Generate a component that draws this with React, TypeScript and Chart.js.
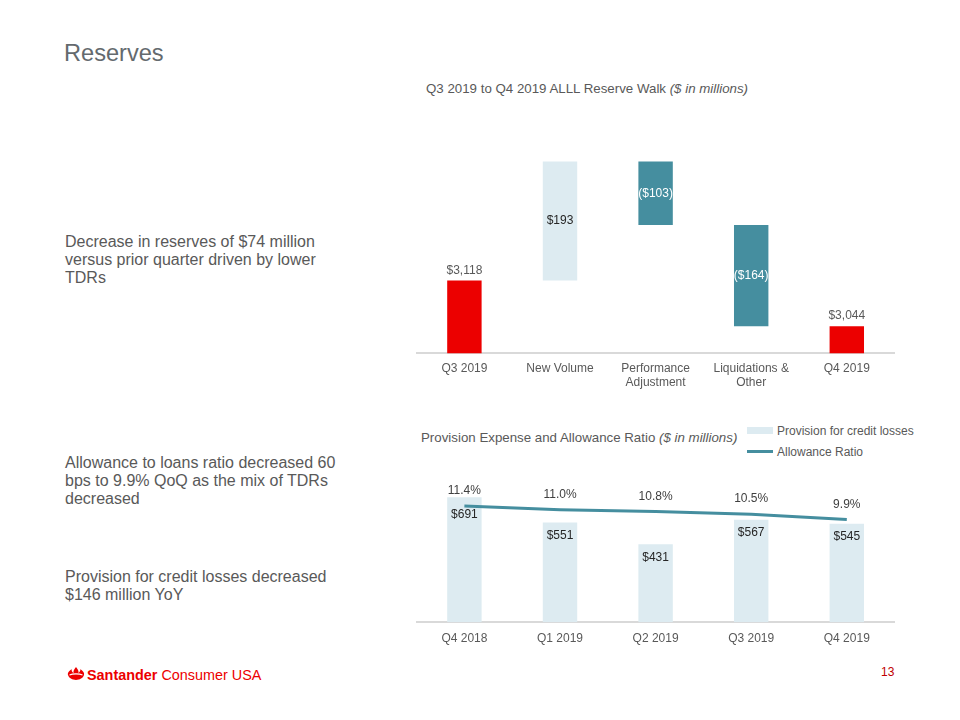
import React, { useEffect, useRef } from "react";
import Chart from "chart.js/auto";

// ---------- Data ----------
const walkCategories: string[][] = [["Q3 2019"], ["New Volume"], ["Performance", "Adjustment"], ["Liquidations &", "Other"], ["Q4 2019"]];
const walkValues: number[] = [3118, 193, -103, -164, 3044];
const walkIsTotal: boolean[] = [true, false, false, false, true];
const walkLabels: string[] = ["$3,118", "$193", "($103)", "($164)", "$3,044"];

const provCategories: string[] = ["Q4 2018", "Q1 2019", "Q2 2019", "Q3 2019", "Q4 2019"];
const provisionValues: number[] = [691, 551, 431, 567, 545];
const provisionLabels: string[] = ["$691", "$551", "$431", "$567", "$545"];
const allowanceRatio: number[] = [11.4, 11.0, 10.8, 10.5, 9.9];
const allowanceLabels: string[] = ["11.4%", "11.0%", "10.8%", "10.5%", "9.9%"];
const seriesNames: string[] = ["Provision for credit losses", "Allowance Ratio"];

// ---------- Style ----------
const FONT = "'Liberation Sans', Arial, sans-serif";
const RED = "#EC0000";
const LIGHT = "#DDEBF1";
const TEAL = "#458E9F";
const GRAY = "#595959";
const DARK = "#262626";

function buildWalkRanges(): [number, number][] {
  const out: [number, number][] = [];
  let running = 0;
  walkValues.forEach((v, i) => {
    if (walkIsTotal[i]) {
      out.push([0, v]);
      running = v;
    } else {
      out.push([running, running + v]);
      running = running + v;
    }
  });
  return out;
}

const walkColors = walkValues.map((v, i) => (walkIsTotal[i] ? RED : v >= 0 ? LIGHT : TEAL));

const walkLabelPlugin = {
  id: "walkLabels",
  afterDatasetsDraw(chart: any) {
    const ctx = chart.ctx;
    const meta = chart.getDatasetMeta(0);
    ctx.save();
    ctx.font = `12px ${FONT}`;
    ctx.textAlign = "center";
    ctx.textBaseline = "middle";
    meta.data.forEach((el: any, i: number) => {
      const top = Math.min(el.y, el.base);
      const bottom = Math.max(el.y, el.base);
      if (walkIsTotal[i]) {
        ctx.fillStyle = GRAY;
        ctx.fillText(walkLabels[i], el.x, top - 10);
      } else {
        ctx.fillStyle = walkValues[i] >= 0 ? DARK : "#FFFFFF";
        ctx.fillText(walkLabels[i], el.x, (top + bottom) / 2);
      }
    });
    ctx.restore();
  },
};

const provLabelPlugin = {
  id: "provLabels",
  afterDatasetsDraw(chart: any) {
    const ctx = chart.ctx;
    ctx.save();
    ctx.font = `12px ${FONT}`;
    ctx.textAlign = "center";
    ctx.textBaseline = "middle";
    const bars = chart.getDatasetMeta(0).data;
    const pts = chart.getDatasetMeta(1).data;
    bars.forEach((el: any, i: number) => {
      ctx.fillStyle = DARK;
      const lineY = pts[i] ? pts[i].y : -Infinity;
      const y = Math.max(el.y + 13.5, lineY + 9);
      ctx.fillText(provisionLabels[i], el.x, y);
    });
    pts.forEach((el: any, i: number) => {
      ctx.fillStyle = "#404040";
      ctx.fillText(allowanceLabels[i], el.x, el.y - 15);
    });
    ctx.restore();
  },
};

export default function App() {
  const c1 = useRef<HTMLCanvasElement>(null);
  const c2 = useRef<HTMLCanvasElement>(null);

  useEffect(() => {
    Chart.defaults.font.family = FONT;
    const ch1 = new Chart(c1.current as HTMLCanvasElement, {
      type: "bar",
      data: {
        labels: walkCategories,
        datasets: [
          {
            data: buildWalkRanges() as any,
            backgroundColor: walkColors,
            barPercentage: 0.36,
            categoryPercentage: 1,
          },
        ],
      },
      options: {
        responsive: false,
        animation: false,
        layout: { padding: { left: 16.6, right: 25.4, top: 6.5, bottom: 6.7 } },
        plugins: { legend: { display: false }, tooltip: { enabled: false } },
        scales: {
          x: {
            grid: { display: false, drawTicks: false },
            border: { display: true, color: "#D9D9D9", width: 2 },
            ticks: { color: GRAY, font: { size: 12, lineHeight: 1.2 }, padding: 7.8, maxRotation: 0, autoSkip: false },
            afterFit: (s: any) => {
              s.height = 40;
            },
          },
          y: { display: false, min: 3000, max: 3400 },
        },
      },
      plugins: [walkLabelPlugin],
    });

    const ch2 = new Chart(c2.current as HTMLCanvasElement, {
      type: "bar",
      data: {
        labels: provCategories,
        datasets: [
          {
            type: "bar",
            label: seriesNames[0],
            data: provisionValues,
            backgroundColor: LIGHT,
            barPercentage: 0.36,
            categoryPercentage: 1,
            yAxisID: "y",
            order: 2,
          },
          {
            type: "line",
            label: seriesNames[1],
            data: allowanceRatio,
            borderColor: TEAL,
            borderWidth: 3,
            pointRadius: 0,
            tension: 0,
            yAxisID: "y2",
            order: 1,
          } as any,
        ],
      },
      options: {
        responsive: false,
        animation: false,
        layout: { padding: { left: 16.6, right: 25.4, top: 17.5, bottom: 7.7 } },
        plugins: { legend: { display: false }, tooltip: { enabled: false } },
        scales: {
          x: {
            grid: { display: false, drawTicks: false },
            border: { display: true, color: "#D9D9D9", width: 2 },
            ticks: { color: GRAY, font: { size: 12, lineHeight: 1.2 }, padding: 8.8, maxRotation: 0 },
            afterFit: (s: any) => {
              s.height = 30;
            },
          },
          y: { display: false, min: 0, max: 800 },
          y2: { display: false, min: -1.45, max: 14.55, position: "right" },
        },
      },
      plugins: [provLabelPlugin],
    });

    return () => {
      ch1.destroy();
      ch2.destroy();
    };
  }, []);

  const txt: React.CSSProperties = { position: "absolute", fontFamily: FONT, color: GRAY, whiteSpace: "nowrap" };

  return (
    <div style={{ position: "fixed", left: 0, top: 0, width: 960, height: 720, background: "#fff", overflow: "hidden" }}>
      <div style={{ ...txt, left: 64, top: 38, fontSize: 23.6, lineHeight: "30px", color: "#646A6E" }}>Reserves</div>

      <div style={{ ...txt, left: 65, top: 233, fontSize: 16, lineHeight: "18px" }}>
        Decrease in reserves of $74 million
        <br />
        versus prior quarter driven by lower
        <br />
        TDRs
      </div>
      <div style={{ ...txt, left: 65, top: 454, fontSize: 16, lineHeight: "18px" }}>
        Allowance to loans ratio decreased 60
        <br />
        bps to 9.9% QoQ as the mix of TDRs
        <br />
        decreased
      </div>
      <div style={{ ...txt, left: 65, top: 568, fontSize: 16, lineHeight: "18px" }}>
        Provision for credit losses decreased
        <br />
        $146 million YoY
      </div>

      <div style={{ ...txt, left: 426, top: 81, fontSize: 13.3, lineHeight: "16px" }}>
        Q3 2019 to Q4 2019 ALLL Reserve Walk <i>($ in millions)</i>
      </div>
      <canvas ref={c1} width={520} height={300} style={{ position: "absolute", left: 400, top: 100 }} />

      <div style={{ ...txt, left: 421, top: 430, fontSize: 13.3, lineHeight: "16px" }}>
        Provision Expense and Allowance Ratio <i>($ in millions)</i>
      </div>
      <div style={{ position: "absolute", left: 747, top: 427, width: 26, height: 7, background: LIGHT }} />
      <div style={{ ...txt, left: 777, top: 423, fontSize: 12, lineHeight: "16px" }}>{seriesNames[0]}</div>
      <div style={{ position: "absolute", left: 747, top: 450, width: 26, height: 3, background: TEAL }} />
      <div style={{ ...txt, left: 777, top: 444, fontSize: 12, lineHeight: "16px" }}>{seriesNames[1]}</div>
      <canvas ref={c2} width={520} height={200} style={{ position: "absolute", left: 400, top: 460 }} />

      <svg style={{ position: "absolute", left: 67, top: 667 }} width={18} height={13} viewBox="0 0 19 14">
        <path d="M9.5 0 C11 2.5 13 4 12 6.5 C14 5 14.5 4 14 2.5 C17 4 19 6.5 18 9 C17 12 13.5 14 9.5 14 C5.5 14 2 12 1 9 C0 6.5 2 4 5 2.5 C4.5 4 5 5.5 7 6.5 C6 4 8 2.5 9.5 0 Z" fill={RED} />
        <path d="M2.5 8.5 C6 7 13 7 16.5 8.5" stroke="#fff" strokeWidth={1.2} fill="none" />
      </svg>
      <div style={{ ...txt, left: 87, top: 665, fontSize: 14.4, lineHeight: "20px", color: RED }}>
        <span style={{ fontWeight: "bold" }}>Santander</span> <span>Consumer USA</span>
      </div>
      <div style={{ ...txt, left: 881, top: 664, fontSize: 12, lineHeight: "16px", color: "#C00000" }}>13</div>
    </div>
  );
}
